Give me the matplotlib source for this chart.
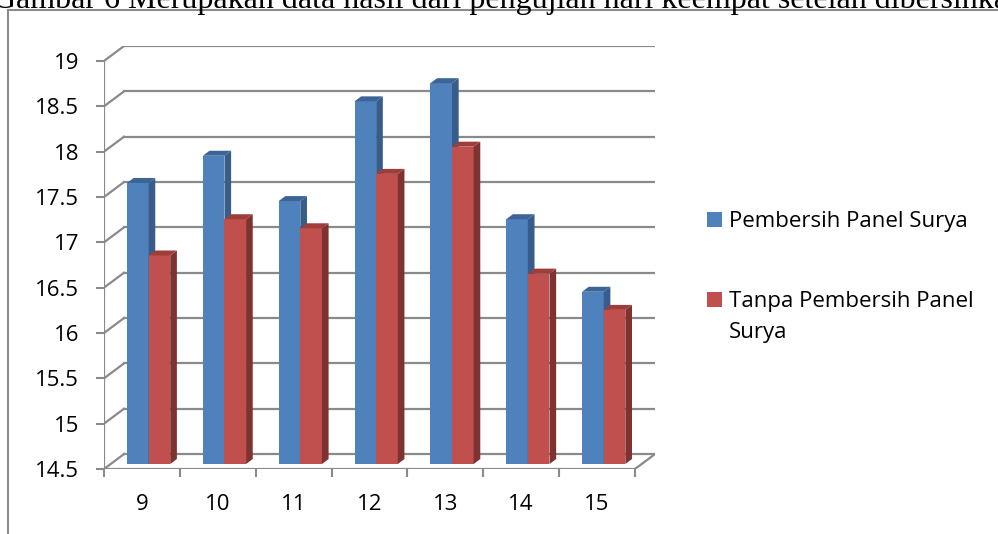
import numpy as np
import matplotlib.pyplot as plt
from matplotlib.patches import Polygon, Rectangle
from matplotlib.lines import Line2D

plt.rcParams['font.family'] = ['Open Sans', 'DejaVu Sans']

# data
hours = ['9', '10', '11', '12', '13', '14', '15']
with_cleaner = [17.6, 17.9, 17.4, 18.5, 18.7, 17.2, 16.4]
without_cleaner = [16.8, 17.2, 17.1, 17.7, 18.0, 16.6, 16.2]
yticks = [14.5, 15, 15.5, 16, 16.5, 17, 17.5, 18, 18.5, 19]
labels = ['Pembersih Panel Surya', 'Tanpa Pembersih Panel\nSurya']
caption = 'Gambar 6 Merupakan data hasil dari pengujian hari keempat setelah dibersihkan'

blue, blue_side, blue_top = '#4F81BD', '#385D8A', '#3C6496'
red, red_side, red_top = '#C0504D', '#7F3331', '#9E3D3A'
grid = '#8a8a8a'

W, H = 998, 534
fig = plt.figure(figsize=(W / 100, H / 100), dpi=100)
ax = fig.add_axes([0.1042, 0.1217, 0.5521, 0.7921])

# depth of the 3d box in data units, bars take the middle third
DX, DY = 0.264, 0.165
d, e = DX / 3, DY / 3
y0, y1 = yticks[0], yticks[-1]
n = len(hours)
xl, xr = -0.5, n - 0.5

ax.set_xlim(xl, xr + DX)
ax.set_ylim(y0, y1 + DY)
for s in ax.spines.values():
    s.set_visible(False)

# back wall gridlines + side wall diagonals
for y in yticks:
    ax.plot([xl + DX, xr + DX], [y + DY, y + DY], color=grid, lw=1.6, zorder=1)
    ax.plot([xl, xl + DX], [y, y + DY], color=grid, lw=1.6, zorder=1)
ax.plot([xl, xr], [y0, y0], color=grid, lw=1.6, zorder=1)
ax.plot([xr, xr + DX], [y0, y0 + DY], color=grid, lw=1.6, zorder=1)
ax.plot([xl, xl], [y0, y1], color=grid, lw=1.6, zorder=1)

w = 0.285
x = np.arange(n)


def bar3d(left, vals, front, side, top):
    ax.bar(left + d, np.array(vals) - y0, width=w, bottom=y0 + e, align='edge',
           color=front, zorder=3)
    for xa, v in zip(left + d, vals):
        xb = xa + w
        ax.add_patch(Polygon([(xb, y0 + e), (xb + d, y0 + 2 * e), (xb + d, v + 2 * e), (xb, v + e)],
                             closed=True, fc=side, ec='none', zorder=3))
        ax.add_patch(Polygon([(xa, v + e), (xb, v + e), (xb + d, v + 2 * e), (xa + d, v + 2 * e)],
                             closed=True, fc=top, ec='none', zorder=3))


bar3d(x - w, with_cleaner, blue, blue_side, blue_top)
bar3d(x.astype(float), without_cleaner, red, red_side, red_top)

ax.set_yticks(yticks, [f'{v:g}' for v in yticks])
ax.tick_params(axis='y', length=5.8, width=1.5, color=grid, pad=12, labelsize=16)
ax.set_xticks(x, hours)
ax.set_xticks(np.arange(n + 1) - 0.5, minor=True)
ax.tick_params(axis='x', which='major', length=0, pad=18, labelsize=16)
ax.tick_params(axis='x', which='minor', length=5.8, width=1.5, color=grid)

# legend, square aligned with the first line of each label
entry_top = [212, 292]
for lab, col, top in zip(labels, [blue, red], entry_top):
    fig.add_artist(Rectangle((707 / W, 1 - (top + 15) / H), 15 / W, 15 / H,
                             transform=fig.transFigure, fc=col, ec='none'))
    for k, line in enumerate(lab.split('\n')):
        fig.text(729 / W, 1 - (top + 15 + 31 * k) / H, line, fontsize=16, va='baseline')

# page frame and caption cut off at the top
fig.add_artist(Line2D([8 / W, 8 / W], [0, 1 - 10 / H], color='#8c8c8c', lw=1.5))
fig.add_artist(Line2D([8 / W, 1], [1 - 10 / H, 1 - 10 / H], color='#8c8c8c', lw=1.5))
fig.text(-7 / W, 1 - 8 / H, caption, family='Liberation Serif', fontsize=23, va='baseline')

fig.savefig('out.png', dpi=100)
